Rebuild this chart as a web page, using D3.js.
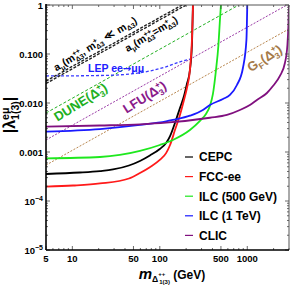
<!DOCTYPE html>
<html>
<head>
<meta charset="utf-8">
<script src="https://cdn.jsdelivr.net/npm/d3@7"></script>
<style>
  body { margin: 0; background: #fff; }
  text { font-family: "Liberation Sans", Arial, sans-serif; font-weight: bold; }
</style>
</head>
<body>
<svg id="chart" width="294" height="287"></svg>
<script>
// ---- data (mass in GeV, |lambda| bound) ----
const cepc = [[5,3.56e-4],[12.2,3.82e-4],[20.7,4.09e-4],[29.2,4.4e-4],[44.4,5.3e-4],[59.3,6.55e-4],[77,8.5e-4],[100,1.15e-3],[118,1.53e-3],[131,2.12e-3],[153,4.5e-3],[170,7.9e-3],[189,0.0139],[204,0.0244],[221,0.047],[233,0.153],[239,1]];
const fccee = [[5,1.96e-4],[10.2,2.07e-4],[20.7,2.28e-4],[44.4,2.88e-4],[59.3,3.73e-4],[77,4.9e-4],[100,6.9e-4],[118,9.5e-4],[131,1.39e-3],[149,2.8e-3],[170,5.7e-3],[189,0.0115],[204,0.020],[221,0.047],[233,0.19],[240,1]];
const ilc500 = [[5,7.43e-4],[20.7,7.9e-4],[59.3,1.05e-3],[100,1.39e-3],[141,1.76e-3],[221,2.81e-3],[288,4.3e-3],[337,5.97e-3],[374,8.7e-3],[405,0.0153],[439,0.0471],[468,0.153],[487,0.494],[500,1]];
const ilc1tev = [[5,2.6e-3],[20.7,2.94e-3],[59.3,3.56e-3],[118,4.2e-3],[141,4.5e-3],[221,5.5e-3],[311,7.2e-3],[374,9.1e-3],[527,0.0121],[634,0.0146],[762,0.0233],[892,0.0518],[978,0.193],[1000,1]];
const clic = [[5,3.28e-3],[20.7,3.47e-3],[59.3,3.67e-3],[118,3.96e-3],[374,5.0e-3],[586,5.7e-3],[824,7.2e-3],[1072,9.1e-3],[1289,0.0115],[1678,0.016],[1965,0.0222],[2362,0.0356],[2694,0.0655],[2877,0.153],[2954,0.39],[3000,1]];

const amuLight = [[5,0.028],[180,1]];
const amuEqual = [[5,0.025],[200,1]];
const lepMuMu = [[5,0.0356],[20.7,0.0364],[45.6,0.039],[77,0.045],[115,0.054],[170,0.069],[221,0.079]];
const dune = [[5,0.00625],[800,1]];
const lfu = [[5,0.00176],[2840,1]];
const gFermi = [[5,5.4e-4],[3000,0.325]];

const xTickLabels = [5, 10, 50, 100, 500, 1000];
const yTickValues = [1e-5, 1e-4, 1e-3, 1e-2, 1e-1, 1];
const yTickText = [['10','−5'], ['10','−4'], ['0.001'], ['0.010'], ['0.100'], ['1']];
const legendNames = ['CEPC', 'FCC-ee', 'ILC (500 GeV)', 'ILC (1 TeV)', 'CLIC'];

// ---- layout ----
const svg = d3.select('#chart');
const x = d3.scaleLog().domain([5, 3000]).range([46, 289]);
const y = d3.scaleLog().domain([1e-5, 1]).range([250, 5]);

svg.append('defs').append('clipPath').attr('id', 'plot-clip')
  .append('rect')
  .attr('x', x.range()[0]).attr('y', y.range()[1])
  .attr('width', x.range()[1] - x.range()[0])
  .attr('height', y.range()[0] - y.range()[1]);

const line = d3.line()
  .x(d => x(d[0]))
  .y(d => y(d[1]))
  .curve(d3.curveMonotoneX);

const plot = svg.append('g').attr('clip-path', 'url(#plot-clip)');

// dashed bounds
const dashed = [
  { data: gFermi, color: '#b8864e', width: 1, dash: '2 1.5' },
  { data: lfu, color: '#9a3aa6', width: 1, dash: '2 1.5' },
  { data: dune, color: '#22b022', width: 1, dash: '3 2' },
  { data: lepMuMu, color: '#3a3aff', width: 1.3, dash: '3 2' },
  { data: amuEqual, color: '#222', width: 1.4, dash: '3 1.5' },
  { data: amuLight, color: '#222', width: 1.4, dash: '3 1.5' }
];
dashed.forEach(s => {
  plot.append('path')
    .datum(s.data)
    .attr('d', line)
    .attr('fill', 'none')
    .attr('stroke', s.color)
    .attr('stroke-width', s.width)
    .attr('stroke-dasharray', s.dash);
});

// collider reaches
const colliders = [
  { data: cepc, color: '#000000' },
  { data: fccee, color: '#ff1a1a' },
  { data: ilc500, color: '#1ee81e' },
  { data: ilc1tev, color: '#1a1aff' },
  { data: clic, color: '#80107f' }
];
colliders.forEach(s => {
  plot.append('path')
    .datum(s.data)
    .attr('d', line)
    .attr('fill', 'none')
    .attr('stroke', s.color)
    .attr('stroke-width', 1.8);
});

// ---- frame and ticks ----
const [x0, x1] = x.range();
const [yb, yt] = y.range();

const xMinor = [];
[1, 10, 100, 1000].forEach(dec => {
  for (let k = 1; k <= 9; k++) {
    const v = k * dec;
    if (v >= 5 && v <= 3000 && !xTickLabels.includes(v)) xMinor.push(v);
  }
});
const yMinor = [];
[1e-5, 1e-4, 1e-3, 1e-2, 1e-1].forEach(dec => {
  for (let k = 2; k <= 9; k++) yMinor.push(k * dec);
});

const ticks = svg.append('g').attr('stroke', '#444').attr('stroke-width', 0.8);
xTickLabels.forEach(v => {
  ticks.append('line').attr('x1', x(v)).attr('x2', x(v)).attr('y1', yb).attr('y2', yb - 4);
  ticks.append('line').attr('x1', x(v)).attr('x2', x(v)).attr('y1', yt).attr('y2', yt + 4);
});
xMinor.forEach(v => {
  ticks.append('line').attr('x1', x(v)).attr('x2', x(v)).attr('y1', yb).attr('y2', yb - 2);
  ticks.append('line').attr('x1', x(v)).attr('x2', x(v)).attr('y1', yt).attr('y2', yt + 2);
});
yTickValues.forEach(v => {
  ticks.append('line').attr('x1', x0).attr('x2', x0 + 4).attr('y1', y(v)).attr('y2', y(v));
  ticks.append('line').attr('x1', x1).attr('x2', x1 - 4).attr('y1', y(v)).attr('y2', y(v));
});
yMinor.forEach(v => {
  ticks.append('line').attr('x1', x0).attr('x2', x0 + 2).attr('y1', y(v)).attr('y2', y(v));
  ticks.append('line').attr('x1', x1).attr('x2', x1 - 2).attr('y1', y(v)).attr('y2', y(v));
});

svg.append('line').attr('x1', x0).attr('x2', x1).attr('y1', yt).attr('y2', yt)
  .attr('stroke', '#555').attr('stroke-width', 1);
svg.append('line').attr('x1', x1).attr('x2', x1).attr('y1', yt).attr('y2', yb)
  .attr('stroke', '#555').attr('stroke-width', 1);
svg.append('line').attr('x1', x0).attr('x2', x1).attr('y1', yb).attr('y2', yb)
  .attr('stroke', '#000').attr('stroke-width', 1.6);
svg.append('line').attr('x1', x0).attr('x2', x0).attr('y1', yt - 1).attr('y2', yb)
  .attr('stroke', '#000').attr('stroke-width', 1.6);

// tick labels
svg.append('g').selectAll('text').data(xTickLabels).join('text')
  .attr('x', d => x(d)).attr('y', 262)
  .attr('text-anchor', 'middle')
  .attr('font-size', 9.5)
  .text(d => d);

yTickValues.forEach((v, i) => {
  const t = svg.append('text')
    .attr('x', 43).attr('y', y(v) + 3.5)
    .attr('text-anchor', 'end')
    .attr('font-size', 9.5);
  const parts = yTickText[i];
  t.append('tspan').text(parts[0]);
  if (parts[1]) t.append('tspan').attr('dy', -4).attr('font-size', 7).text(parts[1]);
});

// ---- rich text helper (sub / superscripts, optionally stacked) ----
function rich(text, segs, fs) {
  let cur = 0;
  let pad = 0;
  segs.forEach(s => {
    if (typeof s === 'string') {
      text.append('tspan').attr('dy', -cur).attr('dx', pad).attr('font-size', fs).text(s);
      cur = 0; pad = 0;
      return;
    }
    const small = fs * 0.66;
    let supW = 0;
    if (s.sup) {
      const off = -fs * 0.4;
      const t = text.append('tspan').attr('dx', pad).attr('dy', off - cur).attr('font-size', small).text(s.sup);
      cur = off; pad = 0;
      supW = t.node().getComputedTextLength();
    }
    if (s.sub) {
      const off = fs * 0.25;
      const t = text.append('tspan').attr('dx', s.sup ? -supW : pad).attr('dy', off - cur).attr('font-size', small).text(s.sub);
      cur = off; pad = 0;
      const subW = t.node().getComputedTextLength();
      if (s.sup && subW < supW) pad = supW - subW;
    }
  });
}

function label(px, py, angle, color, fs, segs, anchor) {
  const t = svg.append('text')
    .attr('transform', `translate(${px},${py}) rotate(${angle})`)
    .attr('text-anchor', anchor || 'middle')
    .attr('fill', color);
  rich(t, segs, fs);
  return t;
}

label(97, 47, -31, '#000', 10.5,
  ['a', { sub: 'μ' }, '(m', { sup: '++', sub: 'Δ3' }, ', m', { sup: '+', sub: 'Δ3' }, ' ≪ m', { sub: 'Δ3' }, ')']);
label(153, 37, -31, '#000', 10.5,
  ['a', { sub: 'μ' }, '(m', { sup: '++', sub: 'Δ3' }, '=m', { sup: '+', sub: 'Δ3' }, ')']);
const lep = label(88, 72, 0, '#2020ff', 10.5, ['LEP ee'], 'start');
lep.append('tspan').attr('font-family', 'DejaVu Sans').attr('font-size', 10).text('→');
lep.append('tspan').attr('font-size', 10.5).text('μμ');
label(83, 106, -32, '#22b022', 13, ['DUNE(Δ', { sup: '+', sub: '3' }, ')']);
label(147, 101, -32, '#8a1a8a', 13, ['LFU(Δ', { sup: '+', sub: '3' }, ')']);
label(267, 62, -32, '#a57a48', 13, ['G', { sub: 'F' }, '(Δ', { sup: '+', sub: '3' }, ')']);

// axis titles
const yTitle = svg.append('text')
  .attr('transform', 'translate(15,115) rotate(-90)')
  .attr('text-anchor', 'middle');
rich(yTitle, ['|λ', { sup: 'eμ', sub: '1(3)' }, '|'], 16);

const xTitle = svg.append('text')
  .attr('x', 172).attr('y', 279)
  .attr('text-anchor', 'middle');
xTitle.append('tspan').attr('font-style', 'italic').attr('font-size', 15).text('m');
rich(xTitle, [{ sub: 'Δ' }], 13);
xTitle.append('tspan').attr('dy', -6).attr('font-size', 6).text('++');
xTitle.append('tspan').attr('dx', -6).attr('dy', 8).attr('font-size', 6).text('1(3)');
xTitle.append('tspan').attr('dy', -5.25).attr('font-size', 12).text(' (GeV)');

// legend
const legend = svg.append('g');
legendNames.forEach((name, i) => {
  const cy = 157 + i * 19.6;
  legend.append('line')
    .attr('x1', 185).attr('x2', 193).attr('y1', cy).attr('y2', cy)
    .attr('stroke', colliders[i].color).attr('stroke-width', 1.2);
  legend.append('text')
    .attr('x', 199).attr('y', cy + 4.3)
    .attr('font-size', 12)
    .text(name);
});
</script>
</body>
</html>
